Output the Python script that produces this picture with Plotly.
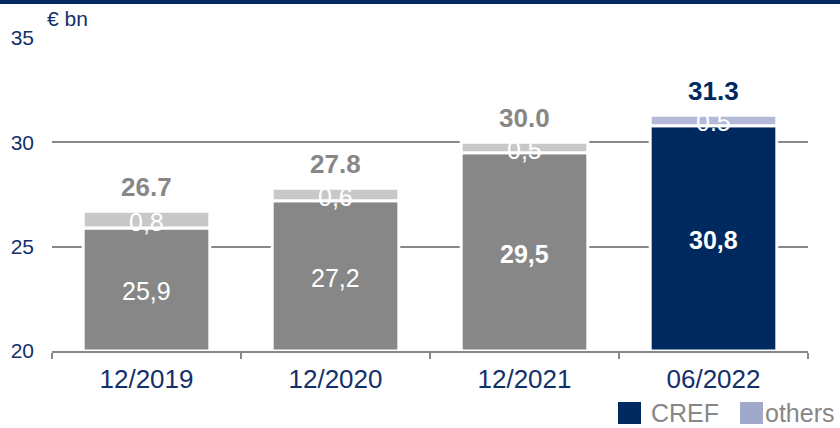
import plotly.graph_objects as go

categories = ["12/2019", "12/2020", "12/2021", "06/2022"]
cref = [25.9, 27.2, 29.5, 30.8]
others = [0.8, 0.6, 0.5, 0.5]
cref_labels = ["25,9", "27,2", "29,5", "30,8"]
others_labels = ["0,8", "0,6", "0,5", "0.5"]
cref_bold = [False, False, True, True]
y_ticks = [20, 25, 30, 35]

NAVY = "#002960"
GRAY = "#878787"
LIGHT = "#c8c8c8"
LAV_BAR = "#b3b9d7"
LAV_LEG = "#a0a9c9"
TICK = "#14306a"
FONT = "Liberation Sans, Arial, sans-serif"

Y_MIN, Y_MAX = 20, 35
BASE = 20

W, H = 840, 428
ML, MR, MT, MB = 52, 32, 38, 77
PW, PH = W - ML - MR, H - MT - MB

def px(x):
    return (x - ML) / PW

def py(y):
    return (H - MB - y) / PH

n = len(categories)
cref_colors = [GRAY] * (n - 1) + [NAVY]
others_colors = [LIGHT] * (n - 1) + [LAV_BAR]

fig = go.Figure()
fig.add_trace(go.Bar(
    x=categories, y=[v - BASE for v in cref], base=BASE,
    marker=dict(color=cref_colors, line=dict(color="white", width=3)),
    width=0.67, showlegend=False, hoverinfo="skip",
))
fig.add_trace(go.Bar(
    x=categories, y=others, base=cref,
    marker=dict(color=others_colors, line=dict(color="white", width=3)),
    width=0.67, showlegend=False, hoverinfo="skip",
))

annotations = []
for i, cat in enumerate(categories):
    lab = cref_labels[i]
    if cref_bold[i]:
        lab = f"<b>{lab}</b>"
    annotations.append(dict(
        x=cat, y=(BASE + cref[i]) / 2, text=lab, showarrow=False,
        font=dict(size=25, color="white", family=FONT), yshift=-2,
    ))
    annotations.append(dict(
        x=cat, y=cref[i] + others[i] / 2, text=others_labels[i], showarrow=False,
        font=dict(size=25, color="white", family=FONT), yshift=-2,
    ))
    total = cref[i] + others[i]
    annotations.append(dict(
        x=cat, y=total, text=f"<b>{total:.1f}</b>", showarrow=False,
        font=dict(size=26, color=(NAVY if i == n - 1 else GRAY), family=FONT),
        yanchor="middle", yshift=24,
    ))

annotations.append(dict(
    xref="paper", yref="paper", x=px(45), y=py(18), text="€ bn",
    xanchor="left", yanchor="middle", showarrow=False,
    font=dict(size=21, color=TICK, family=FONT),
))
annotations.append(dict(
    xref="paper", yref="paper", x=px(649), y=py(413), text="CREF",
    xanchor="left", yanchor="middle", showarrow=False,
    font=dict(size=25, color=GRAY, family=FONT),
))
annotations.append(dict(
    xref="paper", yref="paper", x=px(763), y=py(413), text="others",
    xanchor="left", yanchor="middle", showarrow=False,
    font=dict(size=25, color=GRAY, family=FONT),
))

shapes = [
    dict(type="rect", xref="paper", yref="paper", x0=px(0), x1=px(W), y0=py(4), y1=py(0),
         fillcolor=NAVY, line=dict(width=0), layer="above"),
    dict(type="rect", xref="paper", yref="paper", x0=px(618), x1=px(641), y0=py(424), y1=py(402),
         fillcolor=NAVY, line=dict(width=0)),
    dict(type="rect", xref="paper", yref="paper", x0=px(740), x1=px(763), y0=py(424), y1=py(402),
         fillcolor=LAV_LEG, line=dict(width=0)),
]

fig.update_layout(
    width=W, height=H, margin=dict(l=ML, r=MR, t=MT, b=MB),
    paper_bgcolor="white", plot_bgcolor="white",
    barmode="overlay", bargap=0.33,
    annotations=annotations, shapes=shapes,
    font=dict(family=FONT),
)
fig.update_xaxes(
    type="category", showline=True, linecolor="#888888", linewidth=2,
    ticks="outside", tickson="boundaries", ticklen=6, tickwidth=2, tickcolor="#888888",
    tickfont=dict(size=26, color=TICK, family=FONT), showgrid=False,
    ticklabelstandoff=4,
)
fig.update_yaxes(
    range=[Y_MIN, Y_MAX], tickvals=y_ticks, showgrid=True, gridcolor="#888888", gridwidth=2,
    zeroline=False, showline=False, ticks="",
    tickfont=dict(size=21, color=TICK, family=FONT),
    ticklabelstandoff=17,
)

fig.write_html("out.html")
